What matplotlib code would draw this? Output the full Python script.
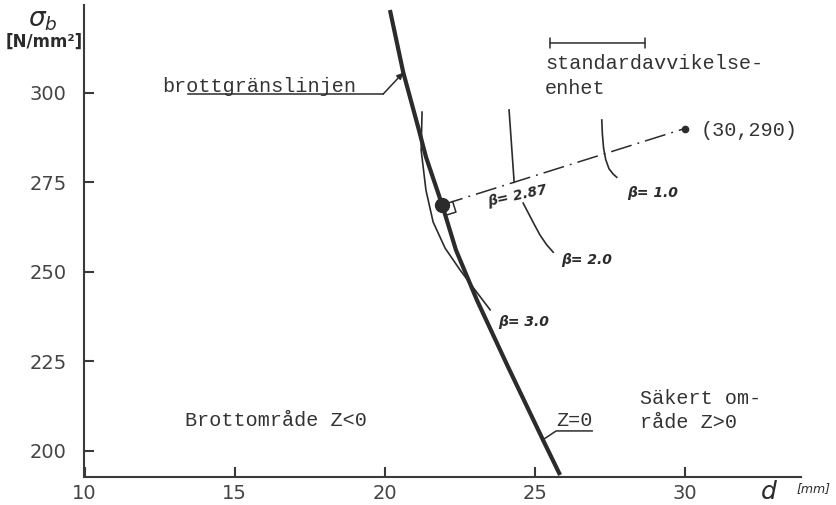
import matplotlib
matplotlib.use("Agg")
import matplotlib.pyplot as plt
import numpy as np

# Limit state line Z = 0  (d in mm, sigma_b in N/mm2)
limit_d = [20.18, 20.62, 21.12, 21.38, 21.92, 22.38, 23.08, 24.12, 25.28, 25.85]
limit_s = [323.1, 305.8, 290.4, 282.1, 268.7, 256.1, 242.1, 223.4, 203.1, 193.3]

# reliability index contours
beta3_d = [21.25, 21.22, 21.38, 21.62, 22.02, 22.52, 23.02, 23.52]
beta3_s = [294.6, 284.0, 272.8, 263.9, 256.6, 250.5, 244.9, 239.4]
beta287_d = [24.15, 24.32]
beta287_s = [295.2, 275.0]
beta2_d = [24.62, 24.80, 24.98, 25.18, 25.40, 25.62]
beta2_s = [269.2, 266.3, 263.4, 260.3, 257.6, 255.5]
beta1_d = [27.24, 27.26, 27.30, 27.37, 27.48, 27.62, 27.74]
beta1_s = [292.4, 288.5, 284.6, 281.4, 278.8, 277.3, 276.4]

design_pt = (21.92, 268.7)
mean_pt = (30.0, 290.0)

xticks = [10, 15, 20, 25, 30]
yticks = [200, 225, 250, 275, 300]

INK = "#2b2b2b"
MONO = "Liberation Mono"

fig = plt.figure(figsize=(8.37, 5.05), dpi=100)
ax = fig.add_axes([84.5 / 837, 28 / 505, 716.5 / 837, 472 / 505])
ax.set_xlim(10, 33.88)
ax.set_ylim(192.74, 324.5)

for side in ("top", "right"):
    ax.spines[side].set_visible(False)
for side in ("left", "bottom"):
    ax.spines[side].set_color("#3a3a3a")
    ax.spines[side].set_linewidth(1.5)

ax.set_xticks(xticks)
ax.set_yticks(yticks)
ax.tick_params(direction="in", length=7, width=1.5, color="#3a3a3a",
               labelsize=14, labelcolor="#444444")
ax.tick_params(axis="x", pad=5)
ax.tick_params(axis="y", pad=13)

# curves
ax.plot(limit_d, limit_s, color=INK, lw=3.0, solid_capstyle="butt",
        solid_joinstyle="round", zorder=3)
for xs, ys in [(beta3_d, beta3_s), (beta287_d, beta287_s),
               (beta2_d, beta2_s), (beta1_d, beta1_s)]:
    ax.plot(xs, ys, color=INK, lw=1.2, solid_joinstyle="round", zorder=2)

# line from design point to mean point
ax.plot([design_pt[0], mean_pt[0]], [design_pt[1], mean_pt[1]], color=INK,
        lw=1.1, linestyle=(0, (14, 4, 1.2, 4)), zorder=2)
ax.plot(*design_pt, "o", color=INK, ms=10, zorder=4)
ax.plot(*mean_pt, "o", color=INK, ms=4.5, zorder=4)

# right angle mark at the design point
p = ax.transData.transform(design_pt)
m = ax.transData.transform(mean_pt)
u = (m - p) / np.linalg.norm(m - p)
v = np.array([u[1], -u[0]])
s = 11
corners = np.array([p + s * u, p + s * u + s * v, p + s * v])
cd = ax.transData.inverted().transform(corners)
ax.plot(cd[:, 0], cd[:, 1], color=INK, lw=1.1, zorder=3)

# labels
txt = dict(family=MONO, fontsize=14.5, color="#333333")
ax.text(12.58, 300.3, "brottgränslinjen", ha="left", va="baseline", **txt)
ax.plot([13.45, 19.95], [299.6, 299.6], color=INK, lw=1.1)
ax.annotate("", xy=(20.62, 305.6), xytext=(19.95, 299.6),
            arrowprops=dict(arrowstyle="-|>", color=INK, lw=1.1,
                            mutation_scale=9, shrinkA=0, shrinkB=0))

ax.annotate("", xy=(25.52, 313.9), xytext=(28.68, 313.9),
            arrowprops=dict(arrowstyle="|-|,widthA=0.35,widthB=0.35",
                            color=INK, lw=1.1, shrinkA=0, shrinkB=0))
ax.text(25.35, 308.3, "standardavvikelse-", ha="left", va="center", **txt)
ax.text(25.35, 301.3, "enhet", ha="left", va="center", **txt)
ax.text(30.52, 289.6, "(30,290)", ha="left", va="center", **txt)

ax.text(13.35, 208.6, "Brottområde Z<0", ha="left", va="center", **txt)
ax.text(28.52, 214.7, "Säkert om-", ha="left", va="center", **txt)
ax.text(28.52, 208.0, "råde Z>0", ha="left", va="center", **txt)
ax.text(25.72, 208.4, "Z=0", ha="left", va="center", **txt)
ax.plot([25.25, 25.72, 26.92], [203.0, 205.6, 205.6], color=INK, lw=1.1)

# handwritten beta labels
beta_txt = dict(family="DejaVu Sans", fontsize=10, fontweight="bold",
                style="italic", color=INK, ha="center", va="center")
ax.text(24.42, 271.1, "β= 2.87", rotation=12, **beta_txt)
ax.text(28.92, 272.0, "β= 1.0", **beta_txt)
ax.text(26.75, 253.3, "β= 2.0", **beta_txt)
ax.text(24.65, 236.0, "β= 3.0", **beta_txt)

# axis titles
fig.text(43 / 837, 1 - 20 / 505, r"$\sigma_b$", fontsize=19, color=INK,
         ha="center", va="center")
fig.text(44 / 837, 1 - 42 / 505, "[N/mm²]", fontsize=12, fontweight="bold",
         color=INK, ha="center", va="center")
fig.text(769 / 837, 1 - 492 / 505, "d", fontsize=18, style="italic",
         color=INK, ha="center", va="center")
fig.text(814 / 837, 1 - 489 / 505, "[mm]", fontsize=9, style="italic",
         color=INK, ha="center", va="center")

fig.savefig("out.png", dpi=100, facecolor="white")
